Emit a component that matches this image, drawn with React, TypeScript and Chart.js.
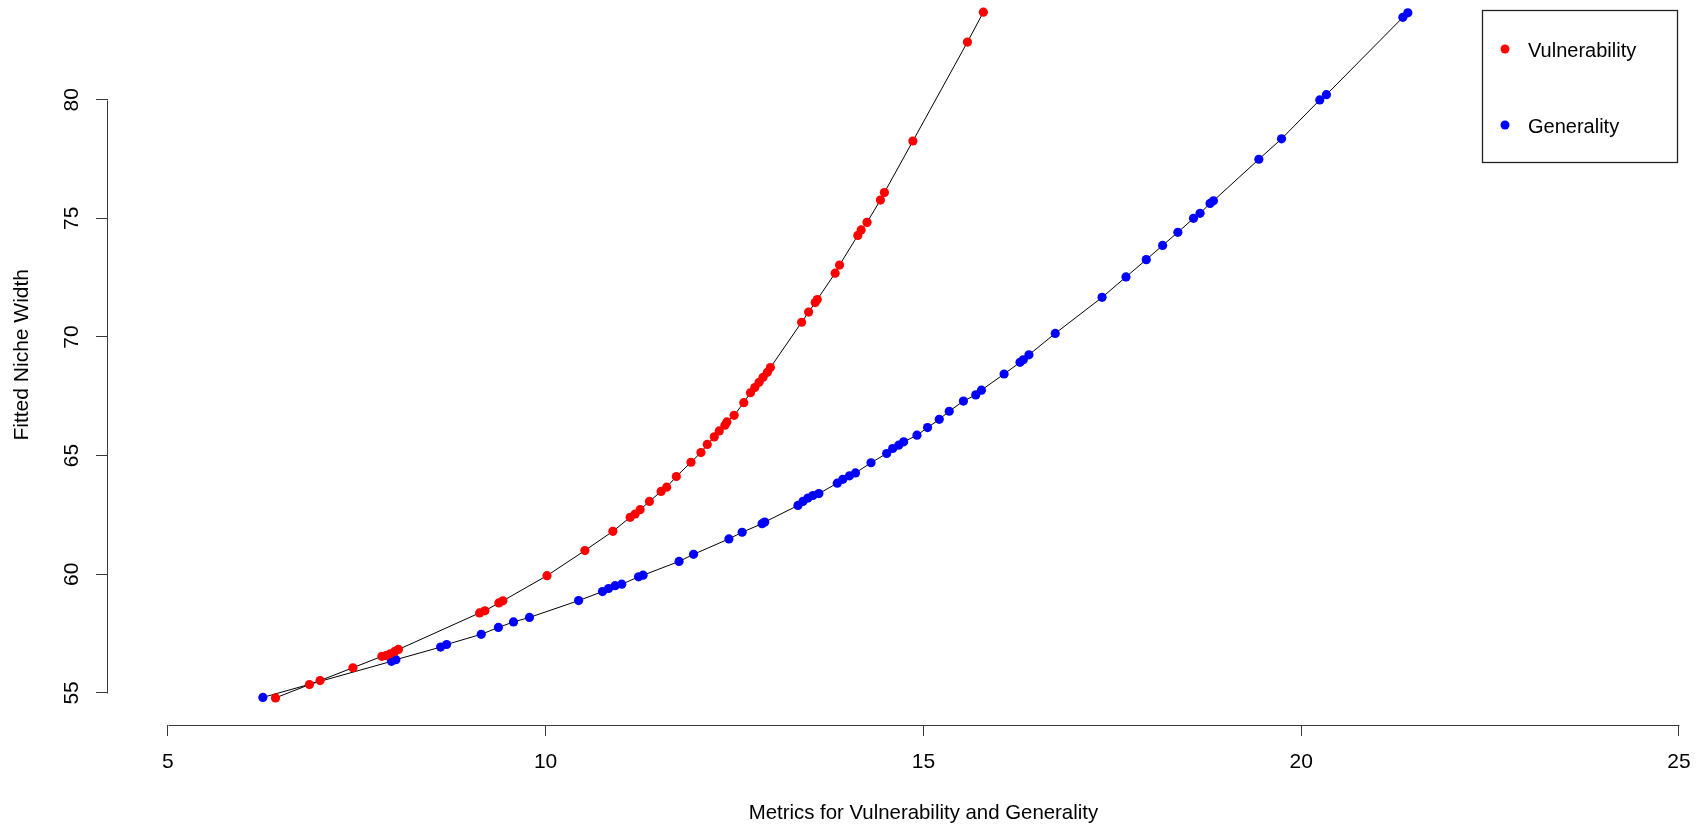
import React, { useEffect, useRef } from "react";
import { Chart, registerables } from "chart.js";

Chart.register(...registerables);

// ---- data ----
const vulnX = [6.425, 6.874, 7.015, 7.45, 7.833, 7.886, 7.943, 8.005, 8.052, 9.126, 9.196, 9.381, 9.434, 10.018, 10.52, 10.89, 11.119, 11.185, 11.251, 11.374, 11.528, 11.602, 11.73, 11.924, 12.056, 12.139, 12.232, 12.298, 12.373, 12.399, 12.495, 12.623, 12.711, 12.769, 12.825, 12.878, 12.935, 12.975, 13.388, 13.481, 13.568, 13.595, 13.832, 13.89, 14.132, 14.176, 14.254, 14.431, 14.484, 14.861, 15.583, 15.794];
const vulnY = [54.79, 55.35, 55.52, 56.06, 56.54, 56.57, 56.65, 56.75, 56.83, 58.37, 58.46, 58.79, 58.88, 59.94, 61.0, 61.81, 62.4, 62.54, 62.72, 63.07, 63.49, 63.67, 64.12, 64.72, 65.13, 65.47, 65.79, 66.04, 66.28, 66.42, 66.7, 67.23, 67.65, 67.87, 68.09, 68.3, 68.51, 68.71, 70.62, 71.05, 71.45, 71.58, 72.69, 73.03, 74.28, 74.51, 74.83, 75.77, 76.09, 78.26, 82.43, 83.69];

const genX = [6.258, 7.96, 8.018, 8.61, 8.69, 9.148, 9.375, 9.575, 9.786, 10.437, 10.753, 10.833, 10.92, 11.008, 11.23, 11.29, 11.766, 11.958, 12.426, 12.601, 12.865, 12.9, 13.34, 13.406, 13.472, 13.538, 13.617, 13.86, 13.934, 14.022, 14.101, 14.307, 14.514, 14.594, 14.673, 14.739, 14.915, 15.055, 15.21, 15.342, 15.53, 15.693, 15.768, 16.068, 16.279, 16.322, 16.397, 16.745, 17.365, 17.681, 17.95, 18.166, 18.368, 18.575, 18.662, 18.794, 18.839, 19.44, 19.74, 20.246, 20.334, 21.346, 21.412];
const genY = [54.81, 56.33, 56.4, 56.93, 57.04, 57.47, 57.76, 57.99, 58.18, 58.89, 59.27, 59.4, 59.52, 59.58, 59.89, 59.96, 60.54, 60.84, 61.49, 61.77, 62.13, 62.2, 62.9, 63.07, 63.21, 63.32, 63.4, 63.84, 64.0, 64.15, 64.27, 64.7, 65.09, 65.3, 65.44, 65.58, 65.86, 66.18, 66.53, 66.87, 67.3, 67.56, 67.76, 68.44, 68.93, 69.04, 69.25, 70.15, 71.67, 72.53, 73.26, 73.86, 74.41, 75.0, 75.21, 75.63, 75.74, 77.49, 78.35, 79.99, 80.21, 83.47, 83.66];

const xTicks = [5, 10, 15, 20, 25];
const yTicks = [55, 60, 65, 70, 75, 80];
const seriesNames = ["Vulnerability", "Generality"];
const seriesColors = ["#ff0000", "#0000ff"];
const xTitle = "Metrics for Vulnerability and Generality";
const yTitle = "Fitted Niche Width";

// ---- styling ----
const FONT = '"Liberation Sans", Arial, Helvetica, sans-serif';
const AXIS_COLOR = "#3a3a3a";
const W = 1701;
const H = 830;

const rStylePlugin = {
  id: "rStyle",
  afterDraw(chart: any) {
    const ctx = chart.ctx as CanvasRenderingContext2D;
    const xs = chart.scales.x;
    const ys = chart.scales.y;
    const area = chart.chartArea;
    ctx.save();
    // axis lines spanning first to last tick (R style)
    ctx.strokeStyle = AXIS_COLOR;
    ctx.lineWidth = 1;
    const yb = Math.round(area.bottom) + 0.5;
    ctx.beginPath();
    ctx.moveTo(Math.round(xs.getPixelForValue(xTicks[0])) + 0.5, yb);
    ctx.lineTo(Math.round(xs.getPixelForValue(xTicks[xTicks.length - 1])) + 0.5, yb);
    ctx.stroke();
    const xl = Math.round(area.left) - 0.5;
    ctx.beginPath();
    ctx.moveTo(xl, Math.round(ys.getPixelForValue(yTicks[0])) + 0.5);
    ctx.lineTo(xl, Math.round(ys.getPixelForValue(yTicks[yTicks.length - 1])) + 0.5);
    ctx.stroke();

    // axis titles
    ctx.fillStyle = "#000";
    ctx.textAlign = "center";
    ctx.textBaseline = "middle";
    ctx.font = `20.4px ${FONT}`;
    ctx.fillText(xTitle, xs.getPixelForValue(15), 813);
    ctx.save();
    ctx.font = `21px ${FONT}`;
    ctx.translate(22, ys.getPixelForValue(69.25));
    ctx.rotate(-Math.PI / 2);
    ctx.fillText(yTitle, 0, 0);
    ctx.restore();

    // legend box
    const bx = 1482.5, by = 10.5, bw = 195, bh = 152;
    ctx.strokeStyle = "#222";
    ctx.lineWidth = 1.3;
    ctx.strokeRect(bx, by, bw, bh);
    const rows = [50, 126];
    ctx.textAlign = "left";
    ctx.font = `20px ${FONT}`;
    seriesNames.forEach((name, i) => {
      ctx.fillStyle = seriesColors[i];
      ctx.beginPath();
      ctx.arc(1505, rows[i] - 1, 4.5, 0, Math.PI * 2);
      ctx.fill();
      ctx.fillStyle = "#000";
      ctx.fillText(name, 1528, rows[i] + 1);
    });
    ctx.restore();
  },
};

export default function App() {
  const canvasRef = useRef<HTMLCanvasElement | null>(null);

  useEffect(() => {
    const canvas = canvasRef.current;
    if (!canvas) return;
    const makeSet = (xs: number[], ys: number[], i: number) => ({
      label: seriesNames[i],
      data: xs.map((x, k) => ({ x, y: ys[k] })),
      showLine: true,
      borderColor: "#000",
      borderWidth: 1,
      tension: 0,
      pointRadius: 4.6,
      pointHoverRadius: 4.6,
      pointBorderWidth: 0,
      pointBackgroundColor: seriesColors[i],
      pointBorderColor: seriesColors[i],
    });

    const chart = new Chart(canvas, {
      type: "scatter",
      data: {
        datasets: [makeSet(vulnX, vulnY, 0), makeSet(genX, genY, 1)],
      },
      plugins: [rStylePlugin],
      options: {
        animation: false,
        responsive: false,
        maintainAspectRatio: false,
        devicePixelRatio: 1,
        events: [],
        layout: { padding: 0 },
        plugins: {
          legend: { display: false },
          tooltip: { enabled: false },
          title: { display: false },
        },
        scales: {
          x: {
            type: "linear",
            position: "bottom",
            min: 4.208,
            max: 25.231,
            afterBuildTicks: (s: any) => {
              s.ticks = xTicks.map((v) => ({ value: v }));
            },
            afterFit: (s: any) => {
              s.height = 105;
              s.paddingLeft = 0;
              s.paddingRight = 0;
              s.paddingTop = 0;
              s.paddingBottom = 0;
            },
            border: { display: false },
            grid: {
              display: true,
              drawOnChartArea: false,
              drawTicks: true,
              tickLength: 11,
              color: AXIS_COLOR,
              lineWidth: 1,
            },
            ticks: {
              autoSkip: false,
              maxRotation: 0,
              minRotation: 0,
              padding: 14,
              color: "#000",
              font: { family: FONT, size: 21 },
            },
          },
          y: {
            type: "linear",
            position: "left",
            min: 53.647,
            max: 84.008,
            afterBuildTicks: (s: any) => {
              s.ticks = yTicks.map((v) => ({ value: v }));
            },
            afterFit: (s: any) => {
              s.width = 108;
              s.paddingLeft = 0;
              s.paddingRight = 0;
              s.paddingTop = 0;
              s.paddingBottom = 0;
            },
            border: { display: false },
            grid: {
              display: true,
              drawOnChartArea: false,
              drawTicks: true,
              tickLength: 12,
              color: AXIS_COLOR,
              lineWidth: 1,
            },
            ticks: {
              autoSkip: false,
              minRotation: 90,
              maxRotation: 90,
              crossAlign: "center",
              padding: 12.6,
              color: "#000",
              font: { family: FONT, size: 21 },
            },
          },
        },
      } as any,
    });
    return () => chart.destroy();
  }, []);

  return (
    <div style={{ position: "absolute", left: 0, top: 0, width: W, height: H, background: "#fff" }}>
      <canvas ref={canvasRef} width={W} height={H} style={{ display: "block", width: W, height: H }} />
    </div>
  );
}
